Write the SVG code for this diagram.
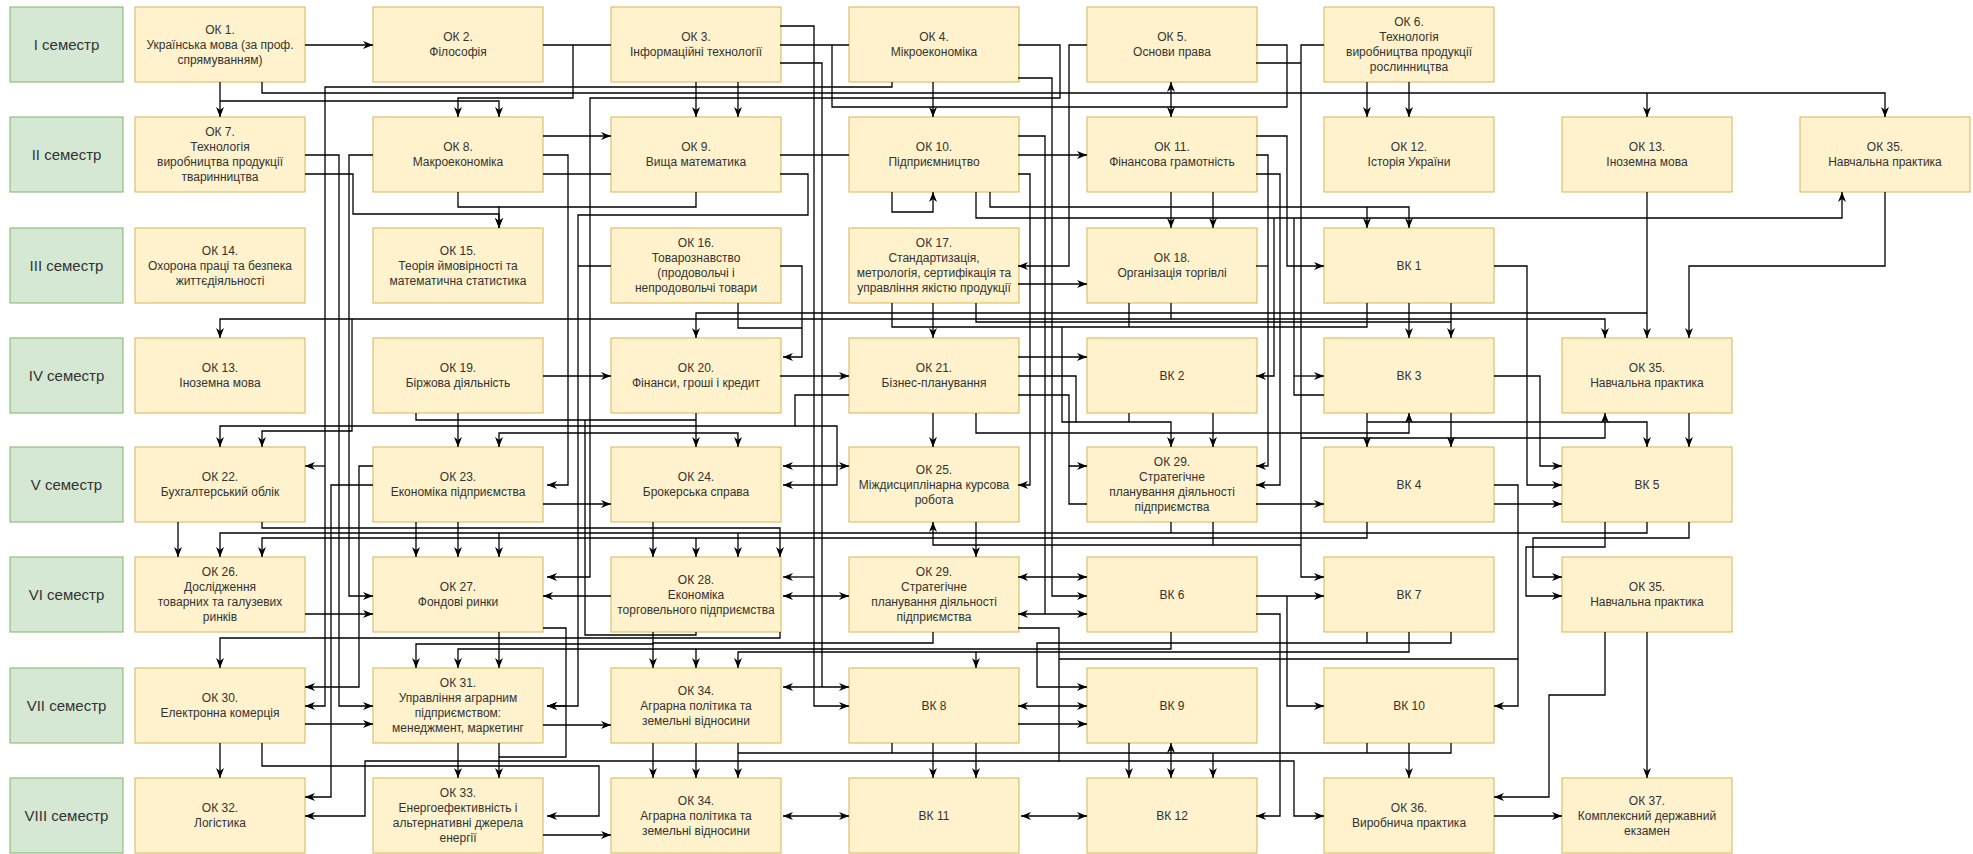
<svg xmlns="http://www.w3.org/2000/svg" width="1973" height="854" viewBox="0 0 1973 854">
<defs>
<marker id="a" viewBox="0 0 10 8" refX="10" refY="4" markerWidth="10" markerHeight="8" markerUnits="userSpaceOnUse" orient="auto-start-reverse"><path d="M0,0 L10,4 L0,8 L3,4 z" fill="#000"/></marker>
<style>
.s rect{fill:#d5e8d4;stroke:#82b366;stroke-width:1}
.s text{font-family:"Liberation Sans",Arial,sans-serif;font-size:15px;fill:#333;text-anchor:middle}
.n rect{fill:#fff2cc;stroke:#d6b656;stroke-width:1}
.n text{font-family:"Liberation Sans",Arial,sans-serif;font-size:12px;fill:#333;text-anchor:middle}
#edges path{fill:none;stroke:#000;stroke-width:1.3}
#edges .e{marker-end:url(#a)}
#edges .b{marker-end:url(#a);marker-start:url(#a)}
</style>
</defs>
<rect width="1973" height="854" fill="#fff"/>

<g id="sem1" class="s"><rect x="10" y="7" width="113" height="75"/><text x="66.5" y="49.5">I семестр</text></g>
<g id="sem2" class="s"><rect x="10" y="117" width="113" height="75"/><text x="66.5" y="159.5">II семестр</text></g>
<g id="sem3" class="s"><rect x="10" y="228" width="113" height="75"/><text x="66.5" y="270.5">III семестр</text></g>
<g id="sem4" class="s"><rect x="10" y="338" width="113" height="75"/><text x="66.5" y="380.5">IV семестр</text></g>
<g id="sem5" class="s"><rect x="10" y="447" width="113" height="75"/><text x="66.5" y="489.5">V семестр</text></g>
<g id="sem6" class="s"><rect x="10" y="557" width="113" height="75"/><text x="66.5" y="599.5">VI семестр</text></g>
<g id="sem7" class="s"><rect x="10" y="668" width="113" height="75"/><text x="66.5" y="710.5">VII семестр</text></g>
<g id="sem8" class="s"><rect x="10" y="778" width="113" height="75"/><text x="66.5" y="820.5">VIII семестр</text></g>

<g id="ok1" class="n"><rect x="135" y="7" width="170" height="75"/><text x="220" y="33.5">ОК 1.<tspan x="220" dy="15">Українська мова (за проф.</tspan><tspan x="220" dy="15">спрямуванням)</tspan></text></g>
<g id="ok2" class="n"><rect x="373" y="7" width="170" height="75"/><text x="458" y="41">ОК 2.<tspan x="458" dy="15">Філософія</tspan></text></g>
<g id="ok3" class="n"><rect x="611" y="7" width="170" height="75"/><text x="696" y="41">ОК 3.<tspan x="696" dy="15">Інформаційні технології</tspan></text></g>
<g id="ok4" class="n"><rect x="849" y="7" width="170" height="75"/><text x="934" y="41">ОК 4.<tspan x="934" dy="15">Мікроекономіка</tspan></text></g>
<g id="ok5" class="n"><rect x="1087" y="7" width="170" height="75"/><text x="1172" y="41">ОК 5.<tspan x="1172" dy="15">Основи права</tspan></text></g>
<g id="ok6" class="n"><rect x="1324" y="7" width="170" height="75"/><text x="1409" y="26">ОК 6.<tspan x="1409" dy="15">Технологія</tspan><tspan x="1409" dy="15">виробництва продукції</tspan><tspan x="1409" dy="15">рослинництва</tspan></text></g>

<g id="ok7" class="n"><rect x="135" y="117" width="170" height="75"/><text x="220" y="136">ОК 7.<tspan x="220" dy="15">Технологія</tspan><tspan x="220" dy="15">виробництва продукції</tspan><tspan x="220" dy="15">тваринництва</tspan></text></g>
<g id="ok8" class="n"><rect x="373" y="117" width="170" height="75"/><text x="458" y="151">ОК 8.<tspan x="458" dy="15">Макроекономіка</tspan></text></g>
<g id="ok9" class="n"><rect x="611" y="117" width="170" height="75"/><text x="696" y="151">ОК 9.<tspan x="696" dy="15">Вища математика</tspan></text></g>
<g id="ok10" class="n"><rect x="849" y="117" width="170" height="75"/><text x="934" y="151">ОК 10.<tspan x="934" dy="15">Підприємництво</tspan></text></g>
<g id="ok11" class="n"><rect x="1087" y="117" width="170" height="75"/><text x="1172" y="151">ОК 11.<tspan x="1172" dy="15">Фінансова грамотність</tspan></text></g>
<g id="ok12" class="n"><rect x="1324" y="117" width="170" height="75"/><text x="1409" y="151">ОК 12.<tspan x="1409" dy="15">Історія України</tspan></text></g>
<g id="ok13a" class="n"><rect x="1562" y="117" width="170" height="75"/><text x="1647" y="151">ОК 13.<tspan x="1647" dy="15">Іноземна мова</tspan></text></g>
<g id="ok35a" class="n"><rect x="1800" y="117" width="170" height="75"/><text x="1885" y="151">ОК 35.<tspan x="1885" dy="15">Навчальна практика</tspan></text></g>

<g id="ok14" class="n"><rect x="135" y="228" width="170" height="75"/><text x="220" y="254.5">ОК 14.<tspan x="220" dy="15">Охорона праці та безпека</tspan><tspan x="220" dy="15">життєдіяльності</tspan></text></g>
<g id="ok15" class="n"><rect x="373" y="228" width="170" height="75"/><text x="458" y="254.5">ОК 15.<tspan x="458" dy="15">Теорія ймовірності та</tspan><tspan x="458" dy="15">математична статистика</tspan></text></g>
<g id="ok16" class="n"><rect x="611" y="228" width="170" height="75"/><text x="696" y="247">ОК 16.<tspan x="696" dy="15">Товарознавство</tspan><tspan x="696" dy="15">(продовольчі і</tspan><tspan x="696" dy="15">непродовольчі товари</tspan></text></g>
<g id="ok17" class="n"><rect x="849" y="228" width="170" height="75"/><text x="934" y="247">ОК 17.<tspan x="934" dy="15">Стандартизація,</tspan><tspan x="934" dy="15">метрологія, сертифікація та</tspan><tspan x="934" dy="15">управління якістю продукції</tspan></text></g>
<g id="ok18" class="n"><rect x="1087" y="228" width="170" height="75"/><text x="1172" y="262">ОК 18.<tspan x="1172" dy="15">Організація торгівлі</tspan></text></g>
<g id="vk1" class="n"><rect x="1324" y="228" width="170" height="75"/><text x="1409" y="270">ВК 1</text></g>

<g id="ok13b" class="n"><rect x="135" y="338" width="170" height="75"/><text x="220" y="372">ОК 13.<tspan x="220" dy="15">Іноземна мова</tspan></text></g>
<g id="ok19" class="n"><rect x="373" y="338" width="170" height="75"/><text x="458" y="372">ОК 19.<tspan x="458" dy="15">Біржова діяльність</tspan></text></g>
<g id="ok20" class="n"><rect x="611" y="338" width="170" height="75"/><text x="696" y="372">ОК 20.<tspan x="696" dy="15">Фінанси, гроші і кредит</tspan></text></g>
<g id="ok21" class="n"><rect x="849" y="338" width="170" height="75"/><text x="934" y="372">ОК 21.<tspan x="934" dy="15">Бізнес-планування</tspan></text></g>
<g id="vk2" class="n"><rect x="1087" y="338" width="170" height="75"/><text x="1172" y="380">ВК 2</text></g>
<g id="vk3" class="n"><rect x="1324" y="338" width="170" height="75"/><text x="1409" y="380">ВК 3</text></g>
<g id="ok35b" class="n"><rect x="1562" y="338" width="170" height="75"/><text x="1647" y="372">ОК 35.<tspan x="1647" dy="15">Навчальна практика</tspan></text></g>

<g id="ok22" class="n"><rect x="135" y="447" width="170" height="75"/><text x="220" y="481">ОК 22.<tspan x="220" dy="15">Бухгалтерський облік</tspan></text></g>
<g id="ok23" class="n"><rect x="373" y="447" width="170" height="75"/><text x="458" y="481">ОК 23.<tspan x="458" dy="15">Економіка підприємства</tspan></text></g>
<g id="ok24" class="n"><rect x="611" y="447" width="170" height="75"/><text x="696" y="481">ОК 24.<tspan x="696" dy="15">Брокерська справа</tspan></text></g>
<g id="ok25" class="n"><rect x="849" y="447" width="170" height="75"/><text x="934" y="473.5">ОК 25.<tspan x="934" dy="15">Міждисциплінарна курсова</tspan><tspan x="934" dy="15">робота</tspan></text></g>
<g id="ok29a" class="n"><rect x="1087" y="447" width="170" height="75"/><text x="1172" y="466">ОК 29.<tspan x="1172" dy="15">Стратегічне</tspan><tspan x="1172" dy="15">планування діяльності</tspan><tspan x="1172" dy="15">підприємства</tspan></text></g>
<g id="vk4" class="n"><rect x="1324" y="447" width="170" height="75"/><text x="1409" y="489">ВК 4</text></g>
<g id="vk5" class="n"><rect x="1562" y="447" width="170" height="75"/><text x="1647" y="489">ВК 5</text></g>

<g id="ok26" class="n"><rect x="135" y="557" width="170" height="75"/><text x="220" y="576">ОК 26.<tspan x="220" dy="15">Дослідження</tspan><tspan x="220" dy="15">товарних та галузевих</tspan><tspan x="220" dy="15">ринків</tspan></text></g>
<g id="ok27" class="n"><rect x="373" y="557" width="170" height="75"/><text x="458" y="591">ОК 27.<tspan x="458" dy="15">Фондові ринки</tspan></text></g>
<g id="ok28" class="n"><rect x="611" y="557" width="170" height="75"/><text x="696" y="583.5">ОК 28.<tspan x="696" dy="15">Економіка</tspan><tspan x="696" dy="15">торговельного підприємства</tspan></text></g>
<g id="ok29b" class="n"><rect x="849" y="557" width="170" height="75"/><text x="934" y="576">ОК 29.<tspan x="934" dy="15">Стратегічне</tspan><tspan x="934" dy="15">планування діяльності</tspan><tspan x="934" dy="15">підприємства</tspan></text></g>
<g id="vk6" class="n"><rect x="1087" y="557" width="170" height="75"/><text x="1172" y="599">ВК 6</text></g>
<g id="vk7" class="n"><rect x="1324" y="557" width="170" height="75"/><text x="1409" y="599">ВК 7</text></g>
<g id="ok35c" class="n"><rect x="1562" y="557" width="170" height="75"/><text x="1647" y="591">ОК 35.<tspan x="1647" dy="15">Навчальна практика</tspan></text></g>

<g id="ok30" class="n"><rect x="135" y="668" width="170" height="75"/><text x="220" y="702">ОК 30.<tspan x="220" dy="15">Електронна комерція</tspan></text></g>
<g id="ok31" class="n"><rect x="373" y="668" width="170" height="75"/><text x="458" y="687">ОК 31.<tspan x="458" dy="15">Управління аграрним</tspan><tspan x="458" dy="15">підприємством:</tspan><tspan x="458" dy="15">менеджмент, маркетинг</tspan></text></g>
<g id="ok34a" class="n"><rect x="611" y="668" width="170" height="75"/><text x="696" y="694.5">ОК 34.<tspan x="696" dy="15">Аграрна політика та</tspan><tspan x="696" dy="15">земельні відносини</tspan></text></g>
<g id="vk8" class="n"><rect x="849" y="668" width="170" height="75"/><text x="934" y="710">ВК 8</text></g>
<g id="vk9" class="n"><rect x="1087" y="668" width="170" height="75"/><text x="1172" y="710">ВК 9</text></g>
<g id="vk10" class="n"><rect x="1324" y="668" width="170" height="75"/><text x="1409" y="710">ВК 10</text></g>

<g id="ok32" class="n"><rect x="135" y="778" width="170" height="75"/><text x="220" y="812">ОК 32.<tspan x="220" dy="15">Логістика</tspan></text></g>
<g id="ok33" class="n"><rect x="373" y="778" width="170" height="75"/><text x="458" y="797">ОК 33.<tspan x="458" dy="15">Енергоефективність і</tspan><tspan x="458" dy="15">альтернативні джерела</tspan><tspan x="458" dy="15">енергії</tspan></text></g>
<g id="ok34b" class="n"><rect x="611" y="778" width="170" height="75"/><text x="696" y="804.5">ОК 34.<tspan x="696" dy="15">Аграрна політика та</tspan><tspan x="696" dy="15">земельні відносини</tspan></text></g>
<g id="vk11" class="n"><rect x="849" y="778" width="170" height="75"/><text x="934" y="820">ВК 11</text></g>
<g id="vk12" class="n"><rect x="1087" y="778" width="170" height="75"/><text x="1172" y="820">ВК 12</text></g>
<g id="ok36" class="n"><rect x="1324" y="778" width="170" height="75"/><text x="1409" y="812">ОК 36.<tspan x="1409" dy="15">Виробнича практика</tspan></text></g>
<g id="ok37" class="n"><rect x="1562" y="778" width="170" height="75"/><text x="1647" y="804.5">ОК 37.<tspan x="1647" dy="15">Комплексний державний</tspan><tspan x="1647" dy="15">екзамен</tspan></text></g>

<g id="edges">
<path class="e" d="M305,45 H373"/>
<path class="e" d="M220,82 V117"/>
<path class="e" d="M262,82 V93 H1885 V117"/>
<path class="e" d="M1647,93 V117"/>
<path class="e" d="M220,101 H499 V117"/>
<path d="M543,45 H611"/>
<path class="e" d="M573,45 V98 H458 V117"/>
<path class="e" d="M696,82 V117"/>
<path class="e" d="M738,82 V117"/>
<path class="e" d="M933,82 V117"/>
<path class="b" d="M1171,82 V117"/>
<path class="e" d="M1367,82 V117"/>
<path class="e" d="M1409,82 V117"/>
<path class="e" d="M892,82 V87 H325 V706 H305"/>
<path class="e" d="M325,466 H305"/>
<path d="M780,45 H849"/>
<path d="M832,45 V107 H1287 V45 H1256"/>
<path class="e" d="M780,26 H814 V706 H849"/>
<path class="e" d="M814,577 H783"/>
<path d="M780,63 H822 V687"/>
<path class="e" d="M1018,45 H1060 V98 H590 V577 H547"/>
<path class="e" d="M1018,78 H1052 V596 H1087"/>
<path class="e" d="M1087,45 H1069 V266 H1018"/>
<path class="e" d="M1324,45 H1301 V577 H1324"/>
<path d="M1256,63 H1301"/>

<path class="e" d="M305,155 H339 V706 H373"/>
<path class="e" d="M305,174 H353 V214 H499 V228"/>
<path class="e" d="M373,155 H349 V596 H373"/>
<path class="e" d="M543,136 H611"/>
<path class="e" d="M543,155 H568 V485 H547"/>
<path d="M543,174 H611"/>
<path class="e" d="M696,192 V207 H499 V228"/>
<path d="M458,192 V207 H499"/>
<path d="M780,155 H849"/>
<path class="e" d="M780,174 H808 V215 H578 V706 H547"/>
<path d="M611,266 H578"/>
<path class="e" d="M892,192 V212 H933 V192"/>
<path class="e" d="M976,192 V218 H1842 V192"/>
<path class="e" d="M990,192 V207 H1409 V228"/>
<path class="e" d="M1367,207 V228"/>
<path class="e" d="M1018,155 H1087"/>
<path d="M1018,136 H1045 V614"/>
<path class="e" d="M1018,174 H1030 V485 H1018"/>
<path class="e" d="M1171,192 V228"/>
<path class="e" d="M1213,192 V228"/>
<path class="e" d="M1256,136 H1287 V266 H1324"/>
<path class="e" d="M1256,155 H1268 V466 H1256"/>
<path class="e" d="M1256,174 H1280 V485 H1256"/>
<path class="e" d="M1494,266 H1527 V485 H1562"/>
<path class="e" d="M1885,192 V266 H1689 V338"/>
<path class="e" d="M1647,192 V338"/>
<path class="e" d="M1018,284 H1087"/>
<path d="M1256,266 H1268"/>

<path class="e" d="M780,266 H802 V357 H783"/>
<path d="M738,303 V328 H802"/>
<path d="M892,303 V327 H1367 V303"/>
<path d="M1129,303 V327"/>
<path d="M1062,327 V422 H1076"/>
<path class="e" d="M933,303 V338"/>
<path class="e" d="M1171,303 V319 H220 V338"/>
<path class="e" d="M1171,319 H1605 V338"/>
<path class="e" d="M352,319 V431 H262 V447"/>
<path d="M976,303 V322 H1451"/>
<path class="e" d="M1409,303 V338"/>
<path class="e" d="M1451,303 V338"/>
<path class="e" d="M1647,313 H696 V338"/>

<path class="e" d="M543,376 H611"/>
<path class="e" d="M780,376 H849"/>
<path class="e" d="M1018,357 H1087"/>
<path class="e" d="M1018,376 H1076 V422 H1171 V447"/>
<path class="e" d="M1018,395 H1069 V466 H1087"/>
<path d="M1069,466 V504 H1087"/>
<path class="e" d="M1274,218 V376 H1256"/>
<path d="M1294,218 V395 H1324"/>
<path class="e" d="M1294,376 H1324"/>
<path class="e" d="M1494,376 H1540 V466 H1562"/>
<path class="e" d="M1494,485 H1518 V706 H1494"/>
<path class="e" d="M1494,504 H1562"/>
<path d="M1129,413 V422"/>
<path class="e" d="M1213,413 V447"/>
<path class="e" d="M933,413 V447"/>
<path class="e" d="M976,413 V433 H1409 V413"/>
<path class="e" d="M1367,413 V447"/>
<path class="e" d="M1367,422 H1647 V447"/>
<path class="e" d="M1451,413 V447"/>
<path class="e" d="M1301,438 H1605 V413"/>
<path class="e" d="M1689,413 V447"/>
<path d="M416,413 V420 H696"/>
<path class="e" d="M696,413 V447"/>
<path class="e" d="M458,413 V447"/>
<path class="e" d="M849,395 H795 V426 H220 V447"/>
<path class="e" d="M795,426 H837 V485 H783"/>
<path class="e" d="M590,433 H499 V447"/>
<path class="e" d="M590,433 H738 V447"/>

<path class="b" d="M783,466 H849"/>
<path class="e" d="M543,504 H611"/>
<path class="e" d="M1256,504 H1324"/>
<path class="e" d="M373,466 H359 V687 H305"/>
<path class="e" d="M373,485 H331 V797 H305"/>
<path d="M1213,522 V545 H1301"/>
<path class="e" d="M1213,545 H933 V522"/>
<path class="e" d="M178,522 V557"/>
<path class="e" d="M262,522 V528 H780 V557"/>
<path class="e" d="M1647,522 V533 H220 V557"/>
<path class="e" d="M1367,522 V538 H262 V557"/>
<path class="e" d="M499,533 V557"/>
<path class="e" d="M696,538 V557"/>
<path class="e" d="M738,533 V557"/>
<path class="e" d="M1689,522 V538 H1533 V577 H1562"/>
<path class="e" d="M1605,522 V547 H1526 V596 H1562"/>
<path class="e" d="M653,522 V557"/>
<path class="e" d="M416,522 V557"/>
<path class="e" d="M458,522 V557"/>
<path class="e" d="M976,522 V557"/>
<path d="M1171,522 V533"/>

<path class="e" d="M305,614 H373"/>
<path class="e" d="M611,596 H543"/>
<path class="b" d="M783,596 H849"/>
<path class="b" d="M1018,577 H1087"/>
<path class="b" d="M1018,614 H1087"/>
<path class="e" d="M1256,596 H1324"/>
<path class="e" d="M1256,614 H1280 V816 H1256"/>
<path class="e" d="M1287,596 V706 H1324"/>
<path class="e" d="M1605,632 V695 H1549 V797 H1494"/>
<path class="e" d="M1647,632 V778"/>
<path class="e" d="M1451,632 V643 H1037 V687 H1087"/>
<path d="M1367,632 V643"/>
<path class="e" d="M1018,628 H1059 V761 H1294 V816 H1324"/>
<path class="e" d="M1059,761 H365 V816 H305"/>
<path d="M1059,659 H1518"/>
<path class="e" d="M933,632 V643 H653 V668"/>
<path class="e" d="M1171,632 V649 H696 V668"/>
<path class="e" d="M1409,632 V652 H738 V668"/>
<path class="e" d="M976,652 V668"/>
<path d="M696,632 V635 H585 V420"/>
<path class="e" d="M543,628 H566 V757 H499 V778"/>
<path class="e" d="M566,706 H547"/>
<path class="e" d="M780,632 V638 H220 V668"/>
<path class="e" d="M653,632 V644 H416 V668"/>
<path class="e" d="M696,649 H458 V668"/>
<path class="e" d="M499,632 V668"/>

<path class="e" d="M305,724 H373"/>
<path class="e" d="M543,725 H611"/>
<path class="b" d="M783,687 H849"/>
<path class="b" d="M1018,706 H1087"/>
<path class="e" d="M1018,724 H1087"/>
<path class="e" d="M220,743 V778"/>
<path class="e" d="M262,743 V766 H599 V816 H547"/>
<path class="e" d="M458,743 V778"/>
<path d="M499,743 V757"/>
<path class="e" d="M653,743 V778"/>
<path class="e" d="M696,743 V778"/>
<path class="e" d="M738,743 V778"/>
<path d="M1451,743 V753 H738"/>
<path d="M1367,743 V753"/>
<path d="M892,743 V753"/>
<path class="e" d="M933,743 V778"/>
<path class="e" d="M976,743 V778"/>
<path class="e" d="M1129,743 V778"/>
<path class="b" d="M1171,743 V778"/>
<path class="e" d="M1213,753 V778"/>
<path class="e" d="M1409,743 V778"/>

<path class="e" d="M543,835 H611"/>
<path class="b" d="M783,816 H849"/>
<path class="b" d="M1021,816 H1087"/>
<path class="e" d="M1494,816 H1562"/>
</g>
</svg>
